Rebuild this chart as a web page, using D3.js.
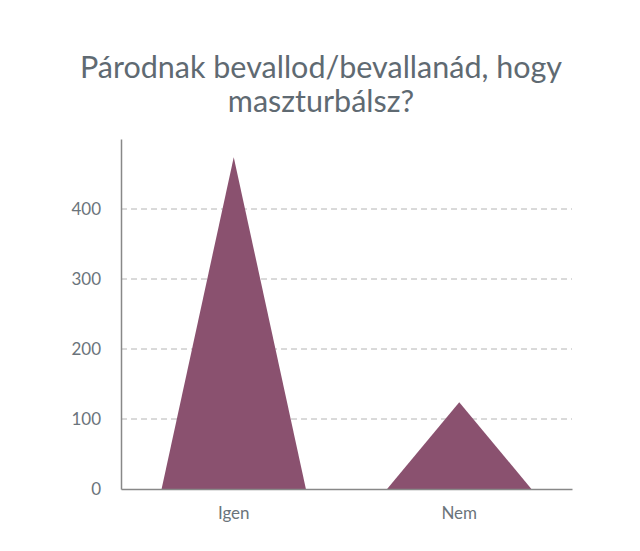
<!DOCTYPE html>
<html>
<head>
<meta charset="utf-8">
<script src="https://cdn.jsdelivr.net/npm/d3@7"></script>
<style>
  body { margin: 0; background: #fff; }
  svg { font-family: Lato, "Open Sans", sans-serif; }
</style>
</head>
<body>
<svg id="svg1" width="640" height="551"></svg>
<script>
var titleLines = ["Párodnak bevallod/bevallanád, hogy", "maszturbálsz?"];
var categories = ["Igen", "Nem"];
var counts = [474, 124];
var yTicks = [0, 100, 200, 300, 400];

var svg = d3.select("#svg1");

var plotLeft = 121, plotRight = 572, plotTop = 139, plotBottom = 489;

var scaleX = d3.scaleBand().domain(categories).range([plotLeft, plotRight]).padding(0);
var scaleY = d3.scaleLinear().domain([0, 500]).range([plotBottom, plotTop]);

// title
svg.append("text")
    .attr("x", 321)
    .attr("y", 78)
    .attr("text-anchor", "middle")
    .attr("fill", "#5f6a72")
    .attr("font-size", 30.5)
    .selectAll("tspan")
    .data(titleLines)
    .enter()
    .append("tspan")
      .attr("x", 321)
      .attr("dy", function(d, i) { return i == 0 ? 0 : 34; })
      .text(function(d) { return d; });

// grid lines
svg.selectAll(".grid")
    .data(yTicks.filter(function(d) { return d > 0; }))
    .enter()
    .append("line")
      .attr("class", "grid")
      .attr("x1", plotLeft)
      .attr("x2", plotRight)
      .attr("y1", function(d) { return scaleY(d); })
      .attr("y2", function(d) { return scaleY(d); })
      .attr("stroke", "#b4b4b4")
      .attr("stroke-width", 1)
      .attr("stroke-dasharray", "6,4");

// triangles
var spread = 0.64;
svg.selectAll(".peak")
    .data(counts)
    .enter()
    .append("path")
      .attr("class", "peak")
      .attr("fill", "#8a516f")
      .attr("d", function(d, i) {
          var c = scaleX(categories[i]) + scaleX.bandwidth() / 2;
          var w = scaleX.bandwidth() * spread / 2;
          return "M" + (c - w) + "," + scaleY(0) +
                 "L" + c + "," + scaleY(d) +
                 "L" + (c + w) + "," + scaleY(0) + "Z";
      });

// y axis
var yAxis = svg.append("g")
    .attr("transform", "translate(" + plotLeft + ",0)")
    .call(d3.axisLeft(scaleY).tickValues(yTicks).tickSize(0).tickPadding(20));
yAxis.select(".domain").attr("stroke", "#888").attr("stroke-width", 1.5);
yAxis.selectAll("text").attr("fill", "#6b747b").attr("font-size", 17).attr("font-family", "Lato, sans-serif");

// x axis
var xAxis = svg.append("g")
    .attr("transform", "translate(0," + plotBottom + ")")
    .call(d3.axisBottom(scaleX).tickSize(0).tickPadding(18));
xAxis.select(".domain").attr("stroke", "#888").attr("stroke-width", 1.5);
xAxis.selectAll("text").attr("fill", "#6b747b").attr("font-size", 17).attr("font-family", "Lato, sans-serif");
</script>
</body>
</html>
